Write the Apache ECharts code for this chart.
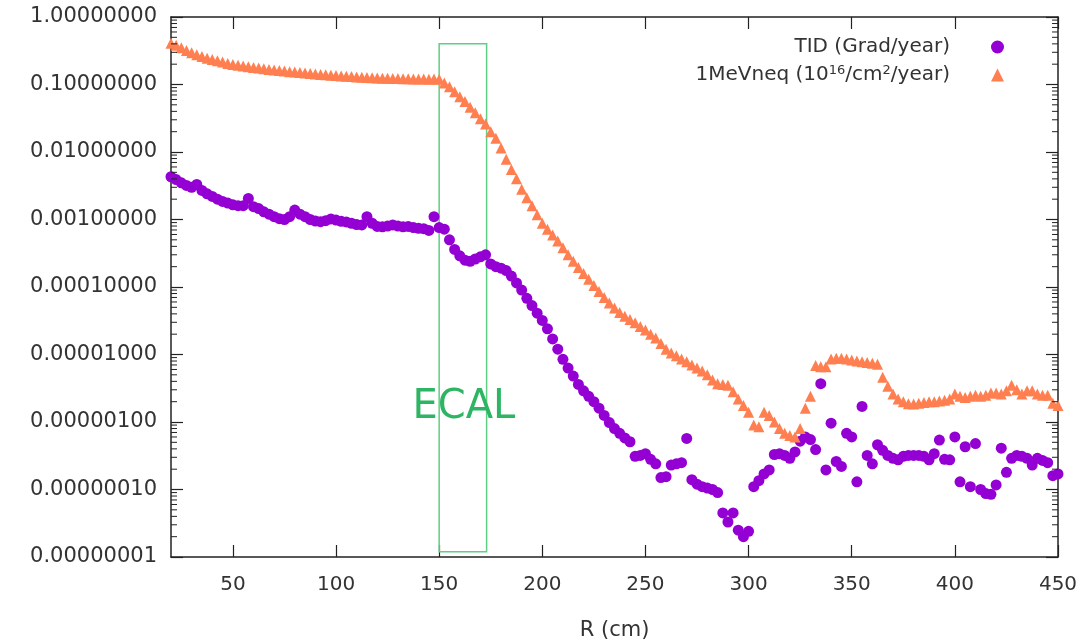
<!DOCTYPE html>
<html><head><meta charset="utf-8">
<script src="https://cdn.jsdelivr.net/npm/echarts@6/dist/echarts.min.js"></script>
<style>html,body{margin:0;padding:0;background:#fff}#c{width:1091px;height:642px}</style>
</head><body><div id="c"></div>
<script>
// ---- data ----
const xTickValues = [50, 100, 150, 200, 250, 300, 350, 400, 450];
const yTickValues = [1e-8, 1e-7, 1e-6, 1e-5, 1e-4, 1e-3, 1e-2, 1e-1, 1];
const yMinorMultipliers = [2, 3, 4, 5, 6, 7, 8, 9];

const tidName = 'TID (Grad/year)';
const neqName = '1MeVneq (10^16/cm^2/year)';

// TID (Grad/year)  [R (cm), value]
const tidData = [
 [20,4.3e-3],[22.5,3.9e-3],[25,3.5e-3],[27.5,3.2e-3],[30,3.0e-3],[32.5,3.3e-3],[35,2.7e-3],[37.5,2.4e-3],[40,2.2e-3],[42.5,2.0e-3],
 [45,1.85e-3],[47.5,1.75e-3],[50,1.65e-3],[52.5,1.6e-3],[55,1.6e-3],[57.5,2.05e-3],[60,1.55e-3],[62.5,1.45e-3],[65,1.3e-3],[67.5,1.2e-3],
 [70,1.1e-3],[72.5,1.03e-3],[75,1.0e-3],[77.5,1.1e-3],[80,1.38e-3],[82.5,1.2e-3],[85,1.1e-3],[87.5,1.0e-3],[90,9.5e-4],[92.5,9.3e-4],
 [95,9.6e-4],[97.5,1.02e-3],[100,9.8e-4],[102.5,9.4e-4],[105,9.2e-4],[107.5,8.8e-4],[110,8.4e-4],[112.5,8.3e-4],[115,1.1e-3],[117.5,8.8e-4],
 [120,7.9e-4],[122.5,7.8e-4],[125,8.0e-4],[127.5,8.3e-4],[130,8.0e-4],[132.5,7.8e-4],[135,7.9e-4],[137.5,7.6e-4],[140,7.4e-4],[142.5,7.3e-4],
 [145,6.9e-4],[147.5,1.1e-3],[150,7.6e-4],[152.5,7.2e-4],[155,5.0e-4],[157.5,3.6e-4],[160,2.9e-4],[162.5,2.5e-4],[165,2.4e-4],[167.5,2.6e-4],
 [170,2.8e-4],[172.5,3.0e-4],[175,2.2e-4],[177.5,2.0e-4],[180,1.9e-4],[182.5,1.75e-4],[185,1.45e-4],[187.5,1.15e-4],[190,9.0e-5],[192.5,6.8e-5],
 [195,5.3e-5],[197.5,4.1e-5],[200,3.2e-5],[202.5,2.4e-5],[205,1.7e-5],[207.5,1.2e-5],[210,8.5e-6],[212.5,6.3e-6],[215,4.8e-6],[217.5,3.6e-6],
 [220,2.9e-6],[222.5,2.4e-6],[225,2.0e-6],[227.5,1.6e-6],[230,1.25e-6],[232.5,9.8e-7],[235,8.0e-7],[237.5,6.8e-7],[240,5.8e-7],[242.5,5.1e-7],
 [245,3.1e-7],[247.5,3.2e-7],[250,3.4e-7],[252.5,2.8e-7],[255,2.4e-7],[257.5,1.5e-7],[260,1.55e-7],[262.5,2.3e-7],[265,2.4e-7],[267.5,2.5e-7],
 [270,5.7e-7],[272.5,1.4e-7],[275,1.2e-7],[277.5,1.1e-7],[280,1.05e-7],[282.5,1.0e-7],[285,9.0e-8],[287.5,4.5e-8],[290,3.3e-8],[292.5,4.5e-8],
 [295,2.5e-8],[297.5,2.0e-8],[300,2.4e-8],[302.5,1.1e-7],[305,1.35e-7],[307.5,1.7e-7],[310,1.95e-7],[312.5,3.3e-7],[315,3.4e-7],[317.5,3.2e-7],
 [320,2.9e-7],[322.5,3.6e-7],[325,5.2e-7],[327.5,6.0e-7],[330,5.5e-7],[332.5,3.9e-7],[335,3.7e-6],[337.5,1.95e-7],[340,9.6e-7],[342.5,2.6e-7],
 [345,2.2e-7],[347.5,6.8e-7],[350,6.0e-7],[352.5,1.3e-7],[355,1.7e-6],[357.5,3.2e-7],[360,2.4e-7],[362.5,4.6e-7],[365,3.8e-7],[367.5,3.2e-7],
 [370,2.9e-7],[372.5,2.75e-7],[375,3.1e-7],[377.5,3.2e-7],[380,3.2e-7],[382.5,3.2e-7],[385,3.1e-7],[387.5,2.75e-7],[390,3.4e-7],[392.5,5.4e-7],
 [395,2.8e-7],[397.5,2.75e-7],[400,6.0e-7],[402.5,1.3e-7],[405,4.3e-7],[407.5,1.1e-7],[410,4.8e-7],[412.5,1.0e-7],[415,8.7e-8],[417.5,8.5e-8],
 [420,1.17e-7],[422.5,4.1e-7],[425,1.8e-7],[427.5,2.9e-7],[430,3.2e-7],[432.5,3.1e-7],[435,2.9e-7],[437.5,2.3e-7],[440,2.9e-7],[442.5,2.7e-7],
 [445,2.5e-7],[447.5,1.6e-7],[450,1.7e-7]
];

// 1MeVneq (1e16/cm^2/year)  [R (cm), value]
const neqData = [
 [20,0.41],[22.5,0.38],[25,0.35],[27.5,0.32],[30,0.295],[32.5,0.275],[35,0.26],[37.5,0.245],[40,0.235],[42.5,0.225],
 [45,0.215],[47.5,0.205],[50,0.198],[52.5,0.193],[55,0.188],[57.5,0.183],[60,0.179],[62.5,0.175],[65,0.171],[67.5,0.167],
 [70,0.164],[72.5,0.161],[75,0.158],[77.5,0.155],[80,0.153],[82.5,0.151],[85,0.148],[87.5,0.146],[90,0.143],[92.5,0.141],
 [95,0.139],[97.5,0.137],[100,0.136],[102.5,0.134],[105,0.132],[107.5,0.131],[110,0.129],[112.5,0.128],[115,0.127],[117.5,0.126],
 [120,0.125],[122.5,0.124],[125,0.124],[127.5,0.123],[130,0.123],[132.5,0.122],[135,0.122],[137.5,0.121],[140,0.121],[142.5,0.121],
 [145,0.120],[147.5,0.121],[150,0.120],[152.5,0.105],[155,0.093],[157.5,0.078],[160,0.066],[162.5,0.056],[165,0.046],[167.5,0.038],
 [170,0.031],[172.5,0.026],[175,0.020],[177.5,0.016],[180,0.0115],[182.5,0.0078],[185,0.0055],[187.5,0.0040],[190,0.0028],[192.5,0.0021],
 [195,0.0016],[197.5,0.00118],[200,8.8e-4],[202.5,7.2e-4],[205,5.9e-4],[207.5,4.8e-4],[210,3.8e-4],[212.5,3.0e-4],[215,2.4e-4],[217.5,1.95e-4],
 [220,1.58e-4],[222.5,1.3e-4],[225,1.05e-4],[227.5,8.6e-5],[230,7.0e-5],[232.5,5.8e-5],[235,4.9e-5],[237.5,4.2e-5],[240,3.7e-5],[242.5,3.3e-5],
 [245,2.95e-5],[247.5,2.6e-5],[250,2.3e-5],[252.5,2.0e-5],[255,1.75e-5],[257.5,1.45e-5],[260,1.2e-5],[262.5,1.05e-5],[265,9.6e-6],[267.5,8.6e-6],
 [270,7.8e-6],[272.5,7.0e-6],[275,6.3e-6],[277.5,5.7e-6],[280,5.0e-6],[282.5,4.2e-6],[285,3.7e-6],[287.5,3.6e-6],[290,3.5e-6],[292.5,2.8e-6],
 [295,2.2e-6],[297.5,1.75e-6],[300,1.4e-6],[302.5,9.0e-7],[305,8.5e-7],[307.5,1.4e-6],[310,1.25e-6],[312.5,1.0e-6],[315,8.0e-7],[317.5,6.8e-7],
 [320,6.3e-7],[322.5,6.0e-7],[325,8.0e-7],[327.5,1.6e-6],[330,2.4e-6],[332.5,6.9e-6],[335,6.6e-6],[337.5,6.6e-6],[340,8.6e-6],[342.5,8.8e-6],
 [345,8.8e-6],[347.5,8.6e-6],[350,8.3e-6],[352.5,8.0e-6],[355,7.8e-6],[357.5,7.6e-6],[360,7.4e-6],[362.5,7.2e-6],[365,4.6e-6],[367.5,3.4e-6],
 [370,2.6e-6],[372.5,2.2e-6],[375,2.0e-6],[377.5,1.86e-6],[380,1.85e-6],[382.5,1.9e-6],[385,1.95e-6],[387.5,2.0e-6],[390,2.0e-6],[392.5,2.05e-6],
 [395,2.1e-6],[397.5,2.2e-6],[400,2.6e-6],[402.5,2.4e-6],[405,2.3e-6],[407.5,2.4e-6],[410,2.5e-6],[412.5,2.4e-6],[415,2.5e-6],[417.5,2.7e-6],
 [420,2.7e-6],[422.5,2.6e-6],[425,2.9e-6],[427.5,3.5e-6],[430,3.0e-6],[432.5,2.6e-6],[435,2.9e-6],[437.5,2.9e-6],[440,2.6e-6],[442.5,2.5e-6],
 [445,2.5e-6],[447.5,1.9e-6],[450,1.75e-6]
];

// ECAL region annotation (data coordinates)
const ecalCorners = [[150, 1.2e-8], [173, 0.4]];
const ecalLabelAt = [162, 1.63e-6];

// ---- chart ----
const FONT = 'DejaVu Sans';
const TXT = '#333';
const AX = '#222';
const X_MIN = 20, X_MAX = 450;

// minor tick positions on the log axis (2..9 within each decade)
const yMinorTicks = [];
yTickValues.slice(0, -1).forEach(d => yMinorMultipliers.forEach(m => yMinorTicks.push([m * d])));

function yAxisCfg(pos, showLabels) {
  return {
    type: 'log', logBase: 10, min: 1e-8, max: 1, splitNumber: 8, position: pos,
    axisLine: { show: true, lineStyle: { color: AX, width: 1.5 } },
    axisTick: { show: true, inside: true, length: 12, lineStyle: { color: AX, width: 1.2 } },
    axisLabel: { show: showLabels, formatter: v => v.toFixed(8), fontSize: 21, color: TXT, fontFamily: FONT, margin: 14 },
    splitLine: { show: false }, minorSplitLine: { show: false }
  };
}
function xAxisCfg(pos, showLabels) {
  const c = {
    type: 'value', min: X_MIN, max: X_MAX, position: pos,
    axisLine: { show: true, onZero: false, lineStyle: { color: AX, width: 1.5 } },
    axisTick: { show: true, inside: true, length: 12, customValues: xTickValues, lineStyle: { color: AX, width: 1.2 } },
    axisLabel: { show: showLabels, customValues: xTickValues, fontSize: 20, color: TXT, fontFamily: FONT, margin: 18 },
    splitLine: { show: false }
  };
  if (showLabels) {
    c.name = 'R (cm)'; c.nameLocation = 'middle'; c.nameGap = 63;
    c.nameTextStyle = { fontSize: 21, color: TXT, fontFamily: FONT };
  }
  return c;
}

const chart = echarts.init(document.getElementById('c'), null, { renderer: 'canvas' });
chart.setOption({
  backgroundColor: '#fff',
  animation: false,
  grid: { left: 171, right: 33, top: 17, bottom: 85, containLabel: false, outerBoundsMode: 'none' },
  xAxis: [xAxisCfg('bottom', true), xAxisCfg('top', false)],
  yAxis: [yAxisCfg('left', true), yAxisCfg('right', false)],
  legend: {
    orient: 'vertical', right: 82, top: 31, align: 'right', itemGap: 6,
    itemWidth: 13, itemHeight: 13,
    data: [tidName, neqName],
    formatter: n => (n === neqName ? '1MeVneq (10{sup|16}/cm{sup|2}/year)' : n) + '{g|}',
    textStyle: {
      fontSize: 20, color: TXT, fontFamily: FONT, lineHeight: 22,
      rich: {
        sup: { fontSize: 13, fontFamily: FONT, color: TXT, verticalAlign: 'top', lineHeight: 22, padding: [0, 0, 9, 0] },
        g: { width: 36 }
      }
    }
  },
  series: [
    {
      name: 'minorTicks', type: 'custom', xAxisIndex: 0, yAxisIndex: 0,
      silent: true, clip: false, z: 5,
      data: yMinorTicks,
      renderItem: (params, api) => {
        const v = api.value(0);
        const pl = api.coord([X_MIN, v]);
        const pr = api.coord([X_MAX, v]);
        const st = { stroke: AX, lineWidth: 1 };
        return {
          type: 'group',
          children: [
            { type: 'line', shape: { x1: pl[0], y1: pl[1], x2: pl[0] + 6, y2: pl[1] }, style: st },
            { type: 'line', shape: { x1: pr[0] - 6, y1: pr[1], x2: pr[0], y2: pr[1] }, style: st }
          ]
        };
      }
    },
    {
      name: tidName, type: 'scatter', xAxisIndex: 0, yAxisIndex: 0,
      symbol: 'circle', symbolSize: 11,
      itemStyle: { color: '#9400d3', opacity: 1 },
      data: tidData, z: 2
    },
    {
      name: neqName, type: 'scatter', xAxisIndex: 0, yAxisIndex: 0,
      symbol: 'triangle', symbolSize: 11,
      itemStyle: { color: '#ff7f50', opacity: 1 },
      data: neqData, z: 3,
      markArea: {
        silent: true,
        itemStyle: { color: 'rgba(0,0,0,0)', borderColor: '#5fcf85', borderWidth: 1.5 },
        data: [[{ coord: ecalCorners[0] }, { coord: ecalCorners[1] }]]
      },
      markPoint: {
        silent: true, symbol: 'circle', symbolSize: 0,
        label: { show: true, position: 'inside', formatter: 'ECAL', fontSize: 40, color: '#2db563', fontFamily: FONT },
        data: [{ coord: ecalLabelAt }]
      }
    }
  ]
});
</script>
</body></html>
